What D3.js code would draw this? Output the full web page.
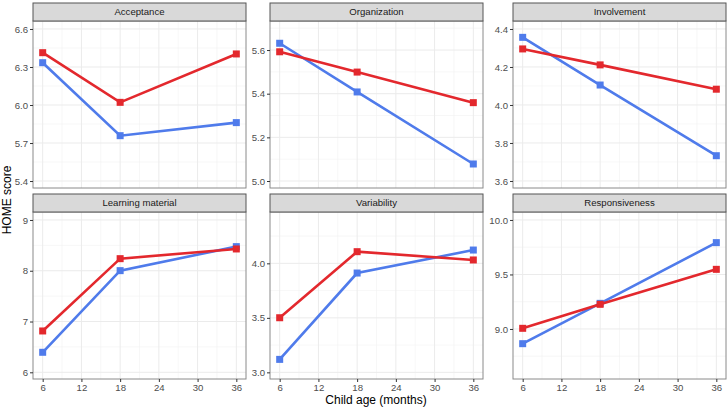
<!DOCTYPE html>
<html><head><meta charset="utf-8">
<script src="https://cdn.jsdelivr.net/npm/d3@7"></script>
<style>body{margin:0;background:#fff;} svg{display:block;font-family:"Liberation Sans",Arial,sans-serif;}</style>
</head><body>
<svg id="c" width="728" height="410"></svg>
<script>
const ages = [6, 18, 36];
const xTicks = [6, 12, 18, 24, 30, 36];
const panels = ["Acceptance", "Organization", "Involvement", "Learning material", "Variability", "Responsiveness"];
const redValues = [
  [6.413, 6.021, 6.403],
  [5.592, 5.499, 5.359],
  [4.295, 4.211, 4.083],
  [6.814, 8.238, 8.429],
  [3.501, 4.107, 4.031],
  [9.006, 9.226, 9.547]
];
const blueValues = [
  [6.334, 5.758, 5.861],
  [5.631, 5.408, 5.078],
  [4.356, 4.105, 3.733],
  [6.394, 8.002, 8.475],
  [3.119, 3.911, 4.122],
  [8.865, 9.235, 9.792]
];
const yLimits = [
  [5.345, 6.663],
  [4.968, 5.733],
  [3.563, 4.442],
  [5.868, 9.157],
  [2.939, 4.471],
  [8.541, 10.073]
];
const yTicks = [
  [5.4, 5.7, 6.0, 6.3, 6.6],
  [5.0, 5.2, 5.4, 5.6],
  [3.6, 3.8, 4.0, 4.2, 4.4],
  [6, 7, 8, 9],
  [3.0, 3.5, 4.0],
  [9.0, 9.5, 10.0]
];
const yTickFormat = [".1f", ".1f", ".1f", "d", ".1f", ".1f"];

const svg = d3.select("#c");
const colLeft = [33, 270, 513];
const pw = 213, ph = 167, stripH = 18;
const rowTop = [21, 212];
const red = "#E3282D", blue = "#4F7BEB";

panels.forEach((name, i) => {
  const col = i % 3, row = Math.floor(i / 3);
  const x0 = colLeft[col], y0 = rowTop[row];
  const g = svg.append("g").attr("transform", `translate(${x0},${y0})`);
  const x = d3.scaleLinear().domain([4.5, 37.5]).range([0, pw]);
  const y = d3.scaleLinear().domain(yLimits[i]).range([ph, 0]);
  const ticks = yTicks[i];
  const step = ticks[1] - ticks[0];
  // minor grid
  const minorY = [];
  for (let v = ticks[0] - step / 2; v <= yLimits[i][1]; v += step) if (v >= yLimits[i][0]) minorY.push(v);
  const minorX = [9, 15, 21, 27, 33];
  g.selectAll(".mx").data(minorX).join("line").attr("x1", d => x(d)).attr("x2", d => x(d)).attr("y1", 0).attr("y2", ph).attr("stroke", "#F2F2F2").attr("stroke-width", 0.6);
  g.selectAll(".my").data(minorY).join("line").attr("y1", d => y(d)).attr("y2", d => y(d)).attr("x1", 0).attr("x2", pw).attr("stroke", "#F2F2F2").attr("stroke-width", 0.6);
  g.selectAll(".gx").data(xTicks).join("line").attr("x1", d => x(d)).attr("x2", d => x(d)).attr("y1", 0).attr("y2", ph).attr("stroke", "#EBEBEB").attr("stroke-width", 1);
  g.selectAll(".gy").data(ticks).join("line").attr("y1", d => y(d)).attr("y2", d => y(d)).attr("x1", 0).attr("x2", pw).attr("stroke", "#EBEBEB").attr("stroke-width", 1);

  const line = d3.line().x((d, k) => x(ages[k])).y(d => y(d));
  [[blueValues[i], blue], [redValues[i], red]].forEach(([vals, c]) => {
    g.append("path").datum(vals).attr("d", line).attr("fill", "none").attr("stroke", c).attr("stroke-width", 2.6);
    g.selectAll(null).data(vals).join("rect")
      .attr("x", (d, k) => x(ages[k]) - 3.5).attr("y", d => y(d) - 3.5)
      .attr("width", 7).attr("height", 7).attr("fill", c);
  });

  // border
  g.append("rect").attr("x", 0).attr("y", 0).attr("width", pw).attr("height", ph).attr("fill", "none").attr("stroke", "#8A8A8A").attr("stroke-width", 1);
  // strip
  g.append("rect").attr("x", 0).attr("y", -stripH).attr("width", pw).attr("height", stripH).attr("fill", "#D9D9D9").attr("stroke", "#555").attr("stroke-width", 1);
  g.append("text").attr("x", pw / 2).attr("y", -stripH / 2).attr("dy", "0.35em").attr("text-anchor", "middle").attr("font-size", 9.6).attr("fill", "#1A1A1A").text(name);

  // y axis
  const ya = d3.axisLeft(y).tickValues(ticks).tickFormat(d3.format(yTickFormat[i])).tickSize(3).tickPadding(2);
  const yg = g.append("g").call(ya);
  yg.select(".domain").remove();
  yg.selectAll("line").attr("stroke", "#333");
  yg.selectAll("text").attr("font-size", 9.6).attr("fill", "#4D4D4D").attr("font-family", "Liberation Sans, Arial, sans-serif");

  if (row === 1) {
    const xa = d3.axisBottom(x).tickValues(xTicks).tickSize(3).tickPadding(2);
    const xg = g.append("g").attr("transform", `translate(0,${ph})`).call(xa);
    xg.select(".domain").remove();
    xg.selectAll("line").attr("stroke", "#333");
    xg.selectAll("text").attr("font-size", 9.6).attr("fill", "#4D4D4D").attr("font-family", "Liberation Sans, Arial, sans-serif");
  }
});

svg.append("text").attr("x", 376).attr("y", 404).attr("text-anchor", "middle").attr("font-size", 12).attr("fill", "#000").text("Child age (months)");
svg.append("text").attr("transform", "translate(11,200) rotate(-90)").attr("text-anchor", "middle").attr("font-size", 12).attr("fill", "#000").text("HOME score");
</script>
</body></html>
